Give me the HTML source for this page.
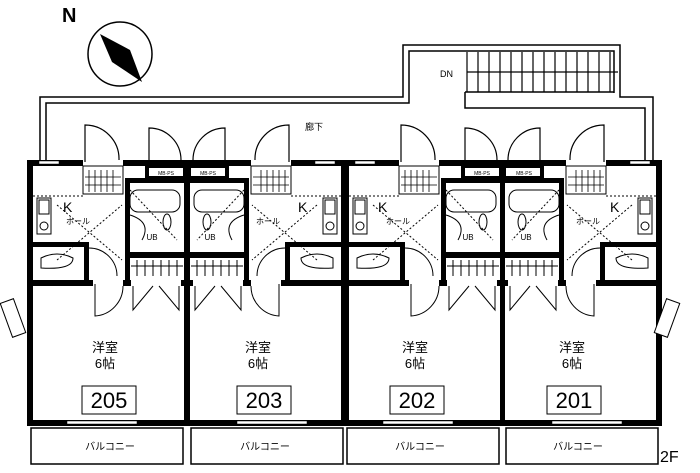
<!DOCTYPE html>
<html><head><meta charset="utf-8"><style>
body{margin:0;background:#fff}
svg{display:block}
text{font-family:"Liberation Sans","Noto Sans CJK JP",sans-serif;fill:#000}
</style></head><body>
<svg width="700" height="473" viewBox="0 0 700 473">
<defs>
<g id="u">
  <rect x="0" y="160" width="160" height="6" fill="#000"/>
  <rect x="0" y="160" width="6" height="266" fill="#000"/>
  <rect x="0" y="420" width="160" height="6" fill="#000"/>
  <rect x="157" y="160" width="5" height="266" fill="#000"/>
  <rect x="12" y="161" width="20" height="3" fill="#fff" stroke="#000" stroke-width="0.5"/>
  <rect x="56" y="160" width="40" height="6" fill="#fff"/>
  <path d="M58 162 V125 A34 34 0 0 1 92 160" fill="none" stroke="#000" stroke-width="1.2"/>
  <path d="M122 162 V128 A32 32 0 0 1 154 160" fill="none" stroke="#000" stroke-width="1.2"/>
  <rect x="56" y="166" width="40" height="28" fill="none" stroke="#000"/>
  <path d="M62 170V192M68 170V192M74 170V192M80 170V192M86 170V192M58 177H94M58 185H94" stroke="#000" stroke-width="0.8"/>
  <rect x="118" y="166" width="40" height="12" fill="#000"/>
  <rect x="122" y="168" width="34" height="8" fill="#fff"/>
  <rect x="98" y="178" width="60" height="5" fill="#000"/>
  <rect x="98" y="178" width="5" height="108" fill="#000"/>
  <rect x="98" y="252" width="60" height="6" fill="#000"/>
  <rect x="103" y="190" width="50" height="22" rx="8" fill="none" stroke="#000"/>
  <ellipse cx="140" cy="222" rx="4" ry="8" fill="none" stroke="#000"/>
  <path d="M103 215 Q125 222 115 240" fill="none" stroke="#000"/>
  <path d="M103 190 L150 240" stroke="#000" stroke-dasharray="2 2"/>
  <path d="M104 266H156M110 260V276M118 260V276M126 260V276M134 260V276M142 260V276M150 260V276" stroke="#000" stroke-width="1"/>
  <path d="M6 196H56" stroke="#000" stroke-dasharray="2 2"/>
  <rect x="10" y="198" width="14" height="36" fill="none" stroke="#000"/>
  <rect x="12" y="200" width="10" height="14" fill="none" stroke="#000"/>
  <circle cx="17" cy="226" r="4" fill="none" stroke="#000"/>
  <path d="M30 205 L95 260 M30 260 L95 205" stroke="#000" stroke-dasharray="2 2"/>
  <rect x="6" y="242" width="56" height="5" fill="#000"/>
  <rect x="57" y="242" width="5" height="38" fill="#000"/>
  <path d="M14 258 Q30 250 46 258 Q46 270 14 268 Z" fill="none" stroke="#000"/>
  <path d="M62 248 A28 28 0 0 1 90 276" fill="none" stroke="#000"/>
  <rect x="0" y="280" width="160" height="6" fill="#000"/>
  <rect x="66" y="280" width="30" height="6" fill="#fff"/>
  <rect x="104" y="280" width="50" height="6" fill="#fff"/>
  <path d="M68 284 V316 A30 30 0 0 0 96 286" fill="none" stroke="#000"/>
  <path d="M106 286 V310 L126 286 M152 286 V310 L132 286" fill="none" stroke="#000"/>
  <rect x="40" y="421" width="70" height="3" fill="#fff" stroke="#000" stroke-width="0.5"/>
  <rect x="4" y="428" width="152" height="36" fill="none" stroke="#000" stroke-width="1.5"/>
</g>
</defs>
<text x="62" y="22" font-size="20" font-weight="bold">N</text>
<circle cx="120" cy="54" r="32" fill="none" stroke="#000" stroke-width="1.5"/>
<path d="M100 34 L130 50 L142 82 L112 62 Z" fill="#000"/>
<path d="M40 160V97H403V45H620V97H653V160" fill="none" stroke="#000" stroke-width="1.5"/>
<path d="M46 160V103H409V51H614V93" fill="none" stroke="#000" stroke-width="1.5"/>
<path d="M465 92H614 M465 92V108H645V160" fill="none" stroke="#000" stroke-width="1.5"/>
<path d="M467 52V92M467 72H618" stroke="#000" stroke-width="1.2"/>
<g stroke="#000" stroke-width="1.2">
<line x1="478" y1="52" x2="478" y2="92"/><line x1="489" y1="52" x2="489" y2="92"/><line x1="500" y1="52" x2="500" y2="92"/><line x1="511" y1="52" x2="511" y2="92"/><line x1="522" y1="52" x2="522" y2="92"/><line x1="533" y1="52" x2="533" y2="92"/><line x1="544" y1="52" x2="544" y2="92"/><line x1="555" y1="52" x2="555" y2="92"/><line x1="566" y1="52" x2="566" y2="92"/><line x1="577" y1="52" x2="577" y2="92"/><line x1="588" y1="52" x2="588" y2="92"/><line x1="599" y1="52" x2="599" y2="92"/><line x1="610" y1="52" x2="610" y2="92"/>
</g>
<text x="440" y="77" font-size="9">DN</text>
<text x="305" y="130" font-size="9">廊下</text>
<use href="#u" transform="translate(27,0)"/>
<use href="#u" transform="translate(347,0) scale(-1,1)"/>
<use href="#u" transform="translate(343,0)"/>
<use href="#u" transform="translate(662,0) scale(-1,1)"/>
<g font-size="5" text-anchor="middle"><text x="166" y="175">MB·PS</text><text x="208" y="175">MB·PS</text><text x="482" y="175">MB·PS</text><text x="524" y="175">MB·PS</text></g>
<rect x="6" y="300" width="14" height="36" fill="#fff" stroke="#000" transform="rotate(-20 13 318)"/>
<rect x="660" y="300" width="14" height="36" fill="#fff" stroke="#000" transform="rotate(20 667 318)"/>
<g font-size="13" text-anchor="middle">
<text x="105" y="352">洋室</text><text x="105" y="368">6帖</text>
<text x="258" y="352">洋室</text><text x="258" y="368">6帖</text>
<text x="415" y="352">洋室</text><text x="415" y="368">6帖</text>
<text x="572" y="352">洋室</text><text x="572" y="368">6帖</text>
</g>
<g fill="none" stroke="#000"><rect x="82" y="386" width="54" height="28"/><rect x="237" y="386" width="54" height="28"/><rect x="390" y="386" width="54" height="28"/><rect x="547" y="386" width="54" height="28"/></g>
<g font-size="22" text-anchor="middle"><text x="109" y="408">205</text><text x="264" y="408">203</text><text x="417" y="408">202</text><text x="574" y="408">201</text></g>
<g font-size="10" text-anchor="middle"><text x="110" y="450">バルコニー</text><text x="265" y="450">バルコニー</text><text x="420" y="450">バルコニー</text><text x="578" y="450">バルコニー</text></g>
<g font-size="14"><text x="63" y="212">K</text><text x="298" y="212">K</text><text x="378" y="212">K</text><text x="610" y="212">K</text></g>
<g font-size="8" text-anchor="middle"><text x="78" y="224">ホール</text><text x="268" y="224">ホール</text><text x="398" y="224">ホール</text><text x="588" y="224">ホール</text>
<text x="152" y="240">UB</text><text x="210" y="240">UB</text><text x="468" y="240">UB</text><text x="526" y="240">UB</text></g>
<text x="660" y="462" font-size="16">2F</text>
</svg>
</body></html>
